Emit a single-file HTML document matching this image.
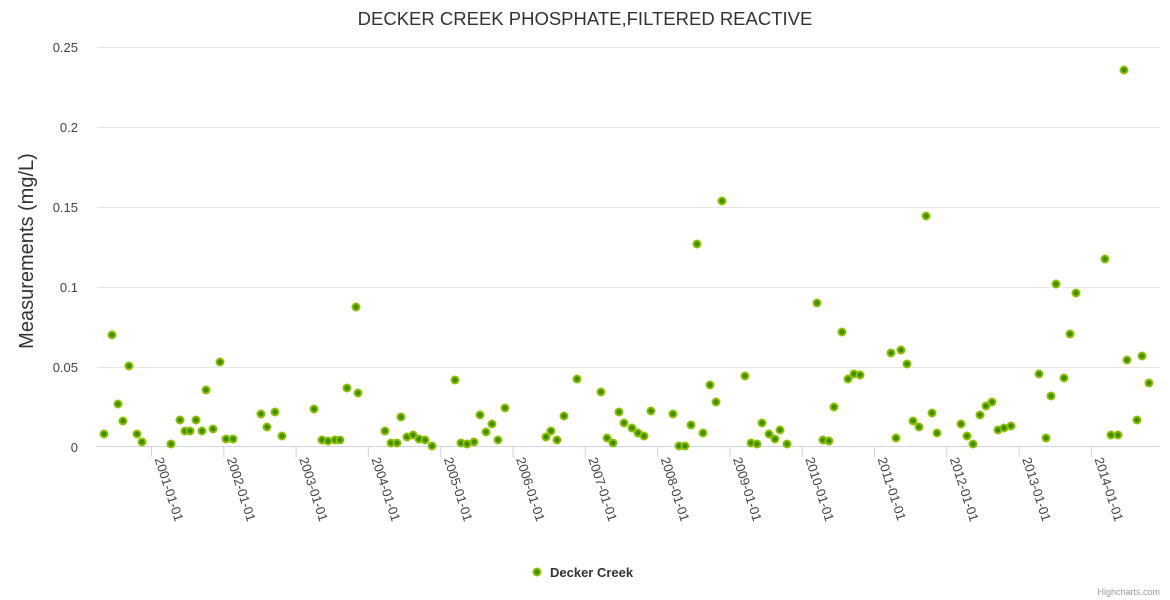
<!DOCTYPE html>
<html><head><meta charset="utf-8"><style>
body{margin:0;background:#fff;}
svg{display:block;font-family:"Liberation Sans",sans-serif;}
</style></head><body>
<svg width="1170" height="600" xmlns="http://www.w3.org/2000/svg">
<rect width="1170" height="600" fill="#fff"/>
<text x="585" y="25" text-anchor="middle" font-size="18.5" fill="#333">DECKER CREEK PHOSPHATE,FILTERED REACTIVE</text>
<g stroke="#e6e6e6" stroke-width="1">
<line x1="97" x2="1160" y1="47.5" y2="47.5"/>
<line x1="97" x2="1160" y1="127.5" y2="127.5"/>
<line x1="97" x2="1160" y1="207.5" y2="207.5"/>
<line x1="97" x2="1160" y1="287.5" y2="287.5"/>
<line x1="97" x2="1160" y1="367.5" y2="367.5"/>
</g>
<line x1="97" x2="1160" y1="446.5" y2="446.5" stroke="#ccd6eb"/>
<g font-size="13" fill="#444" text-anchor="end">
<text x="78" y="52">0.25</text>
<text x="78" y="132">0.2</text>
<text x="78" y="212">0.15</text>
<text x="78" y="292">0.1</text>
<text x="78" y="372">0.05</text>
<text x="78" y="452">0</text>
</g>
<text transform="translate(33,251) rotate(-90)" text-anchor="middle" font-size="20" fill="#333">Measurements (mg/L)</text>
<g id="ticks" stroke="#ccd6eb">
</g>
<g font-size="13" fill="#444" id="xl"></g>
<g id="pts"></g>
<circle cx="537" cy="572" r="3.5" fill="#3f8c00" stroke="#8dbf00" stroke-width="2"/>
<text x="550" y="577" font-size="13" font-weight="bold" fill="#333">Decker Creek</text>
<text x="1160" y="595" text-anchor="end" font-size="9" fill="#999">Highcharts.com</text>
<script>
var ns="http://www.w3.org/2000/svg";
var t=document.getElementById("ticks"),xl=document.getElementById("xl");
for(var i=0;i<14;i++){var x=151.5+i*72.3;
var l=document.createElementNS(ns,"line");l.setAttribute("x1",x);l.setAttribute("x2",x);l.setAttribute("y1",447);l.setAttribute("y2",457);t.appendChild(l);
var tx=document.createElementNS(ns,"text");tx.textContent=(2001+i)+"-01-01";tx.setAttribute("transform","translate("+(x+3)+",459) rotate(72)");xl.appendChild(tx);}
var P=[[104,434],[112,335],[118,404],[123,421],[129,366],[137,434],[142,442],[171,444],[180,420],[185,431],[190,431],[196,420],[202,431],[206,390],[213,429],[220,362],[226,439],[233,439],[261,414],[267,427],[275,412],[282,436],[314,409],[322,440],[328,441],[335,440],[340,440],[347,388],[356,307],[358,393],[385,431],[391,443],[397,443],[401,417],[407,437],[413,435],[419,439],[425,440],[432,446],[455,380],[461,443],[467,444],[474,442],[480,415],[486,432],[492,424],[498,440],[505,408],[546,437],[551,431],[557,440],[564,416],[577,379],[601,392],[607,438],[613,443],[619,412],[624,423],[632,428],[638,433],[644,436],[651,411],[673,414],[679,446],[685,446],[691,425],[697,244],[703,433],[710,385],[716,402],[722,201],[745,376],[751,443],[757,444],[762,423],[769,434],[775,439],[780,430],[787,444],[817,303],[823,440],[829,441],[834,407],[842,332],[848,379],[854,374],[860,375],[891,353],[896,438],[901,350],[907,364],[913,421],[919,427],[926,216],[932,413],[937,433],[961,424],[967,436],[973,444],[980,415],[986,406],[992,402],[998,430],[1004,428],[1011,426],[1039,374],[1046,438],[1051,396],[1056,284],[1064,378],[1070,334],[1076,293],[1105,259],[1111,435],[1118,435],[1124,70],[1127,360],[1137,420],[1142,356],[1149,383]];
var g=document.getElementById("pts");
P.forEach(function(p){var c=document.createElementNS(ns,"circle");c.setAttribute("cx",p[0]);c.setAttribute("cy",p[1]);c.setAttribute("r",3.5);c.setAttribute("fill","#3f8c00");c.setAttribute("stroke","#8dbf00");c.setAttribute("stroke-width",2);g.appendChild(c);});
</script>
</svg>
</body></html>
